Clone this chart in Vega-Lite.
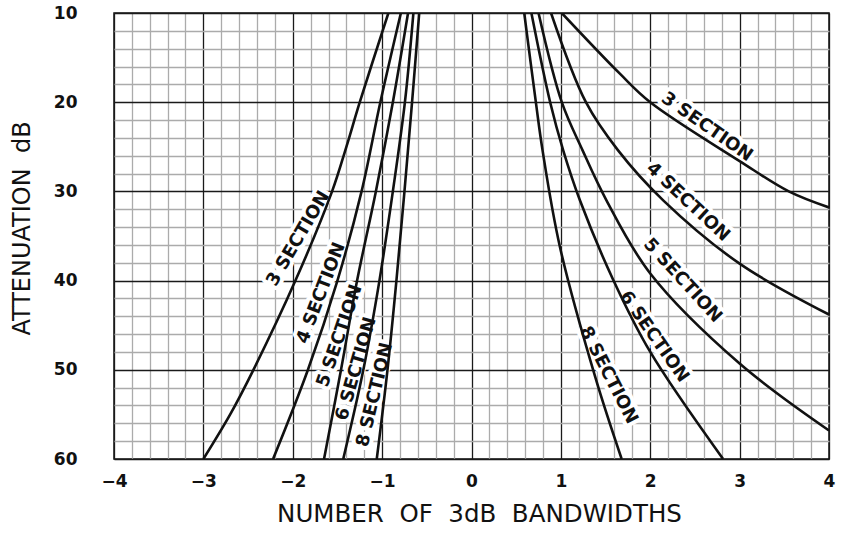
{
  "$schema": "https://vega.github.io/schema/vega-lite/v6.json",
  "width": 715,
  "height": 446,
  "autosize": "none",
  "padding": {"left": 114, "top": 13, "right": 19, "bottom": 76},
  "background": "white",
  "config": {
    "view": {"stroke": "#111", "strokeWidth": 1.5},
    "font": "DejaVu Sans"
  },
  "datasets": {
    "curves": [
      {"curve": "L3", "x": -0.93, "db": 10}, {"curve": "L3", "x": -1.25, "db": 20}, {"curve": "L3", "x": -1.40, "db": 25}, {"curve": "L3", "x": -1.56, "db": 30}, {"curve": "L3", "x": -1.97, "db": 40}, {"curve": "L3", "x": -2.44, "db": 50}, {"curve": "L3", "x": -2.70, "db": 55}, {"curve": "L3", "x": -3.0, "db": 60},
      {"curve": "L4", "x": -0.79, "db": 10}, {"curve": "L4", "x": -1.02, "db": 20}, {"curve": "L4", "x": -1.23, "db": 30}, {"curve": "L4", "x": -1.50, "db": 40}, {"curve": "L4", "x": -1.83, "db": 50}, {"curve": "L4", "x": -2.22, "db": 60},
      {"curve": "L5", "x": -0.71, "db": 10}, {"curve": "L5", "x": -0.88, "db": 20}, {"curve": "L5", "x": -1.07, "db": 30}, {"curve": "L5", "x": -1.28, "db": 40}, {"curve": "L5", "x": -1.46, "db": 50}, {"curve": "L5", "x": -1.65, "db": 60},
      {"curve": "L6", "x": -0.65, "db": 10}, {"curve": "L6", "x": -0.745, "db": 20}, {"curve": "L6", "x": -0.88, "db": 30}, {"curve": "L6", "x": -1.03, "db": 40}, {"curve": "L6", "x": -1.21, "db": 50}, {"curve": "L6", "x": -1.435, "db": 60},
      {"curve": "L8", "x": -0.585, "db": 10}, {"curve": "L8", "x": -0.665, "db": 20}, {"curve": "L8", "x": -0.75, "db": 30}, {"curve": "L8", "x": -0.84, "db": 40}, {"curve": "L8", "x": -0.94, "db": 50}, {"curve": "L8", "x": -1.06, "db": 60},
      {"curve": "R3", "x": 1.01, "db": 10}, {"curve": "R3", "x": 1.66, "db": 16.8}, {"curve": "R3", "x": 2.0, "db": 20}, {"curve": "R3", "x": 3.0, "db": 26.6}, {"curve": "R3", "x": 3.55, "db": 30}, {"curve": "R3", "x": 4.0, "db": 31.8},
      {"curve": "R4", "x": 0.89, "db": 10}, {"curve": "R4", "x": 1.28, "db": 20}, {"curve": "R4", "x": 1.64, "db": 25.4}, {"curve": "R4", "x": 2.145, "db": 31}, {"curve": "R4", "x": 3.0, "db": 38.1}, {"curve": "R4", "x": 4.0, "db": 43.8},
      {"curve": "R5", "x": 0.75, "db": 10}, {"curve": "R5", "x": 1.01, "db": 20}, {"curve": "R5", "x": 1.243, "db": 25.4}, {"curve": "R5", "x": 1.51, "db": 31}, {"curve": "R5", "x": 2.0, "db": 39.2}, {"curve": "R5", "x": 3.0, "db": 49.3}, {"curve": "R5", "x": 4.0, "db": 56.8},
      {"curve": "R6", "x": 0.67, "db": 10}, {"curve": "R6", "x": 0.88, "db": 20}, {"curve": "R6", "x": 1.026, "db": 25.4}, {"curve": "R6", "x": 1.213, "db": 31}, {"curve": "R6", "x": 1.585, "db": 39.9}, {"curve": "R6", "x": 2.0, "db": 48}, {"curve": "R6", "x": 2.815, "db": 60},
      {"curve": "R8", "x": 0.59, "db": 10}, {"curve": "R8", "x": 0.72, "db": 20}, {"curve": "R8", "x": 0.795, "db": 25.4}, {"curve": "R8", "x": 0.989, "db": 36.2}, {"curve": "R8", "x": 1.39, "db": 51}, {"curve": "R8", "x": 1.68, "db": 60}
    ],
    "labels": [
      {"id": "R3", "label": "3 SECTION", "x": 2.633, "db": 22.8},
      {"id": "R4", "label": "4 SECTION", "x": 2.42, "db": 31.2},
      {"id": "R5", "label": "5 SECTION", "x": 2.36, "db": 40.0},
      {"id": "R6", "label": "6 SECTION", "x": 2.04, "db": 46.3},
      {"id": "R8", "label": "8 SECTION", "x": 1.53, "db": 50.6},
      {"id": "L3", "label": "3 SECTION", "x": -1.936, "db": 35.3},
      {"id": "L4", "label": "4 SECTION", "x": -1.679, "db": 41.4},
      {"id": "L5", "label": "5 SECTION", "x": -1.472, "db": 46.2},
      {"id": "L6", "label": "6 SECTION", "x": -1.287, "db": 49.9},
      {"id": "L8", "label": "8 SECTION", "x": -1.08, "db": 52.8}
    ]
  },
  "encoding": {
    "x": {
      "field": "x", "type": "quantitative",
      "scale": {"domain": [-4, 4], "nice": false, "zero": false},
      "axis": {
        "values": [-4,-3.8,-3.6,-3.4,-3.2,-3,-2.8,-2.6,-2.4,-2.2,-2,-1.8,-1.6,-1.4,-1.2,-1,-0.8,-0.6,-0.4,-0.2,0,0.2,0.4,0.6,0.8,1,1.2,1.4,1.6,1.8,2,2.2,2.4,2.6,2.8,3,3.2,3.4,3.6,3.8,4],
        "labelExpr": "abs(datum.value - round(datum.value)) < 0.01 ? format(round(datum.value), 'd') : ''",
        "title": "NUMBER\u00a0 OF\u00a0 3dB\u00a0 BANDWIDTHS",
        "titleX": 365,
        "ticks": false, "domain": false, "grid": true,
        "gridColor": {"condition": {"test": "abs(datum.value - round(datum.value)) < 0.01", "value": "#1a1a1a"}, "value": "#ababab"},
        "gridWidth": 1.3,
        "labelFont": "DejaVu Sans", "labelFontWeight": "bold", "labelFontSize": 17, "labelColor": "#111",
        "labelPadding": 14, "labelFlush": false, "labelOverlap": false,
        "titleFont": "DejaVu Sans", "titleFontWeight": "normal", "titleFontSize": 24.5, "titleColor": "#111", "titlePadding": 13
      }
    },
    "y": {
      "field": "db", "type": "quantitative",
      "scale": {"domain": [10, 60], "reverse": true, "nice": false, "zero": false},
      "axis": {
        "values": [10,12,14,16,18,20,22,24,26,28,30,32,34,36,38,40,42,44,46,48,50,52,54,56,58,60],
        "labelExpr": "datum.value % 10 === 0 ? format(datum.value, 'd') : ''",
        "title": "ATTENUATION\u00a0 dB",
        "titleY": 215,
        "ticks": false, "domain": false, "grid": true,
        "gridColor": {"condition": {"test": "datum.value % 10 === 0", "value": "#1a1a1a"}, "value": "#ababab"},
        "gridWidth": 1.3,
        "labelFont": "DejaVu Sans", "labelFontWeight": "bold", "labelFontSize": 17, "labelColor": "#111",
        "labelPadding": 37, "labelFlush": false, "labelOverlap": false,
        "titleFont": "DejaVu Sans", "titleFontWeight": "normal", "titleFontSize": 24, "titleColor": "#111", "titlePadding": 19
      }
    }
  },
  "layer": [
    {"data": {"name": "labels"}, "transform": [{"filter": "datum.id === 'R3'"}], "encoding": {"text": {"field": "label", "type": "nominal"}},
     "layer": [
      {"mark": {"type": "text", "angle": 35, "fontSize": 18, "fontWeight": "bold", "align": "center", "baseline": "middle", "fill": "white", "stroke": "white", "strokeWidth": 8, "strokeJoin": "round"}},
      {"mark": {"type": "text", "angle": 35, "fontSize": 18, "fontWeight": "bold", "align": "center", "baseline": "middle", "fill": "#111"}}]},
    {"data": {"name": "labels"}, "transform": [{"filter": "datum.id === 'R4'"}], "encoding": {"text": {"field": "label", "type": "nominal"}},
     "layer": [
      {"mark": {"type": "text", "angle": 43, "fontSize": 18, "fontWeight": "bold", "align": "center", "baseline": "middle", "fill": "white", "stroke": "white", "strokeWidth": 8, "strokeJoin": "round"}},
      {"mark": {"type": "text", "angle": 43, "fontSize": 18, "fontWeight": "bold", "align": "center", "baseline": "middle", "fill": "#111"}}]},
    {"data": {"name": "labels"}, "transform": [{"filter": "datum.id === 'R5'"}], "encoding": {"text": {"field": "label", "type": "nominal"}},
     "layer": [
      {"mark": {"type": "text", "angle": 47.5, "fontSize": 18, "fontWeight": "bold", "align": "center", "baseline": "middle", "fill": "white", "stroke": "white", "strokeWidth": 8, "strokeJoin": "round"}},
      {"mark": {"type": "text", "angle": 47.5, "fontSize": 18, "fontWeight": "bold", "align": "center", "baseline": "middle", "fill": "#111"}}]},
    {"data": {"name": "labels"}, "transform": [{"filter": "datum.id === 'R6'"}], "encoding": {"text": {"field": "label", "type": "nominal"}},
     "layer": [
      {"mark": {"type": "text", "angle": 55, "fontSize": 18, "fontWeight": "bold", "align": "center", "baseline": "middle", "fill": "white", "stroke": "white", "strokeWidth": 8, "strokeJoin": "round"}},
      {"mark": {"type": "text", "angle": 55, "fontSize": 18, "fontWeight": "bold", "align": "center", "baseline": "middle", "fill": "#111"}}]},
    {"data": {"name": "labels"}, "transform": [{"filter": "datum.id === 'R8'"}], "encoding": {"text": {"field": "label", "type": "nominal"}},
     "layer": [
      {"mark": {"type": "text", "angle": 63, "fontSize": 18, "fontWeight": "bold", "align": "center", "baseline": "middle", "fill": "white", "stroke": "white", "strokeWidth": 8, "strokeJoin": "round"}},
      {"mark": {"type": "text", "angle": 63, "fontSize": 18, "fontWeight": "bold", "align": "center", "baseline": "middle", "fill": "#111"}}]},
    {"data": {"name": "labels"}, "transform": [{"filter": "datum.id === 'L3'"}], "encoding": {"text": {"field": "label", "type": "nominal"}},
     "layer": [
      {"mark": {"type": "text", "angle": -59.6, "fontSize": 18, "fontWeight": "bold", "align": "center", "baseline": "middle", "fill": "white", "stroke": "white", "strokeWidth": 8, "strokeJoin": "round"}},
      {"mark": {"type": "text", "angle": -59.6, "fontSize": 18, "fontWeight": "bold", "align": "center", "baseline": "middle", "fill": "#111"}}]},
    {"data": {"name": "labels"}, "transform": [{"filter": "datum.id === 'L4'"}], "encoding": {"text": {"field": "label", "type": "nominal"}},
     "layer": [
      {"mark": {"type": "text", "angle": -69, "fontSize": 18, "fontWeight": "bold", "align": "center", "baseline": "middle", "fill": "white", "stroke": "white", "strokeWidth": 8, "strokeJoin": "round"}},
      {"mark": {"type": "text", "angle": -69, "fontSize": 18, "fontWeight": "bold", "align": "center", "baseline": "middle", "fill": "#111"}}]},
    {"data": {"name": "labels"}, "transform": [{"filter": "datum.id === 'L5'"}], "encoding": {"text": {"field": "label", "type": "nominal"}},
     "layer": [
      {"mark": {"type": "text", "angle": -71, "fontSize": 18, "fontWeight": "bold", "align": "center", "baseline": "middle", "fill": "white", "stroke": "white", "strokeWidth": 8, "strokeJoin": "round"}},
      {"mark": {"type": "text", "angle": -71, "fontSize": 18, "fontWeight": "bold", "align": "center", "baseline": "middle", "fill": "#111"}}]},
    {"data": {"name": "labels"}, "transform": [{"filter": "datum.id === 'L6'"}], "encoding": {"text": {"field": "label", "type": "nominal"}},
     "layer": [
      {"mark": {"type": "text", "angle": -74, "fontSize": 18, "fontWeight": "bold", "align": "center", "baseline": "middle", "fill": "white", "stroke": "white", "strokeWidth": 8, "strokeJoin": "round"}},
      {"mark": {"type": "text", "angle": -74, "fontSize": 18, "fontWeight": "bold", "align": "center", "baseline": "middle", "fill": "#111"}}]},
    {"data": {"name": "labels"}, "transform": [{"filter": "datum.id === 'L8'"}], "encoding": {"text": {"field": "label", "type": "nominal"}},
     "layer": [
      {"mark": {"type": "text", "angle": -76.5, "fontSize": 18, "fontWeight": "bold", "align": "center", "baseline": "middle", "fill": "white", "stroke": "white", "strokeWidth": 8, "strokeJoin": "round"}},
      {"mark": {"type": "text", "angle": -76.5, "fontSize": 18, "fontWeight": "bold", "align": "center", "baseline": "middle", "fill": "#111"}}]},
    {
      "data": {"name": "curves"},
      "mark": {"type": "line", "interpolate": "catmull-rom", "color": "#111", "strokeWidth": 2.6, "clip": true},
      "encoding": {"detail": {"field": "curve", "type": "nominal"}, "order": {"field": "db", "type": "quantitative"}}
    }
  ]
}
